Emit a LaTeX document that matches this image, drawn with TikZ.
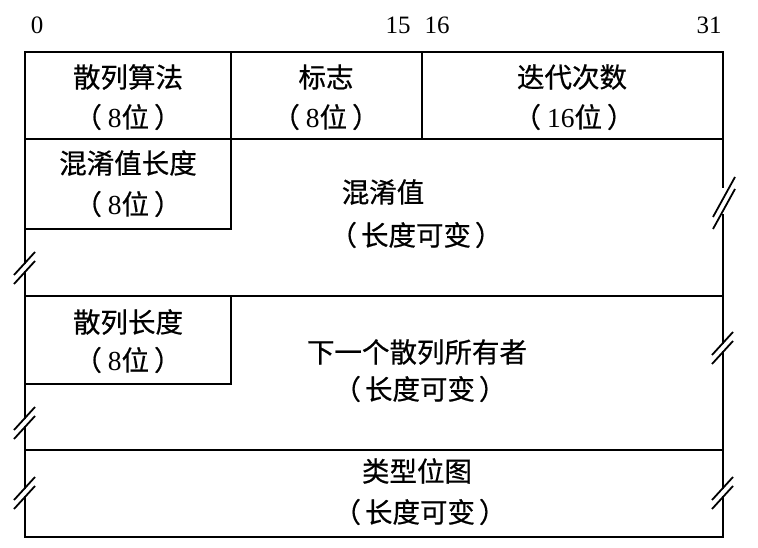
\documentclass[tikz,border=0pt]{standalone}
\usepackage{fontspec}
\setmainfont{Liberation Serif}
\newfontfamily\cjk[FakeBold=0.6]{Noto Sans CJK SC}
\newcommand\bwid[1]{（\hspace{6pt}{\rmfamily #1}位\hspace{5pt}）}
\newcommand\varlen{（\hspace{4pt}长度可变\hspace{4pt}）}
\newcommand\cbreak[2]{%
  \draw[brk] (#1-11,#2+8) -- (#1+10,#2-15);
  \draw[brk] (#1-11,#2+17) -- (#1+10,#2-6);}
\begin{document}
\begin{tikzpicture}[x=1pt,y=-1pt,
  frame/.style={line width=1.8pt,line cap=rect},
  brk/.style={line width=1.8pt},
  lbl/.style={font=\cjk\fontsize{27.5}{30}\selectfont,inner sep=0pt,anchor=center},
  num/.style={font=\fontsize{25}{28}\selectfont,inner sep=0pt,anchor=center}]
\useasboundingbox (0,0) rectangle (758,548);
% bit numbers
\node[num] (b0) at (37,25) {0};
\node[num] (b15) at (398,25) {15};
\node[num] (b16) at (437,25) {16};
\node[num] (b31) at (709,25) {31};
% horizontal lines
\draw[frame] (25,52) -- (723,52);
\draw[frame] (25,139) -- (723,139);
\draw[frame] (25,296) -- (723,296);
\draw[frame] (25,450) -- (723,450);
\draw[frame] (25,537) -- (723,537);
% column dividers
\draw[frame] (231,52) -- (231,139);
\draw[frame] (422,52) -- (422,139);
% small boxes
\draw[frame] (231,139) -- (231,229) -- (25,229);
\draw[frame] (231,296) -- (231,384) -- (25,384);
% left edge with breaks
\draw[frame] (25,52) -- (25,263);
\draw[frame] (25,272) -- (25,418);
\draw[frame] (25,427) -- (25,488);
\draw[frame] (25,497) -- (25,537);
\cbreak{25}{267}
\cbreak{25}{422}
\cbreak{25}{492}
% right edge with breaks
\draw[frame] (723,52) -- (723,187);
\draw[frame] (723,215) -- (723,343);
\draw[frame] (723,352) -- (723,488);
\draw[frame] (723,497) -- (723,537);
\draw[brk] (713,217) -- (735,177);
\draw[brk] (713,229) -- (735,189);
\cbreak{723}{347}
\cbreak{723}{492}
% texts
\node[lbl] (t1) at (128,77) {散列算法};
\node[lbl] (t1b) at (128,117) {\bwid{8}};
\node[lbl] (t2) at (326,77) {标志};
\node[lbl] (t2b) at (326,117) {\bwid{8}};
\node[lbl] (t3) at (572,77) {迭代次数};
\node[lbl] (t3b) at (574,117) {\bwid{16}};
\node[lbl] (t4) at (128,163) {混淆值长度};
\node[lbl] (t4b) at (128,204) {\bwid{8}};
\node[lbl] (t5) at (383,192) {混淆值};
\node[lbl] (t5b) at (416,235) {\varlen};
\node[lbl] (t6) at (128,322) {散列长度};
\node[lbl] (t6b) at (128,360) {\bwid{8}};
\node[lbl] (t7) at (417,352) {下一个散列所有者};
\node[lbl] (t7b) at (420,389) {\varlen};
\node[lbl] (t8) at (417,471) {类型位图};
\node[lbl] (t8b) at (420,512) {\varlen};
\end{tikzpicture}
\end{document}
